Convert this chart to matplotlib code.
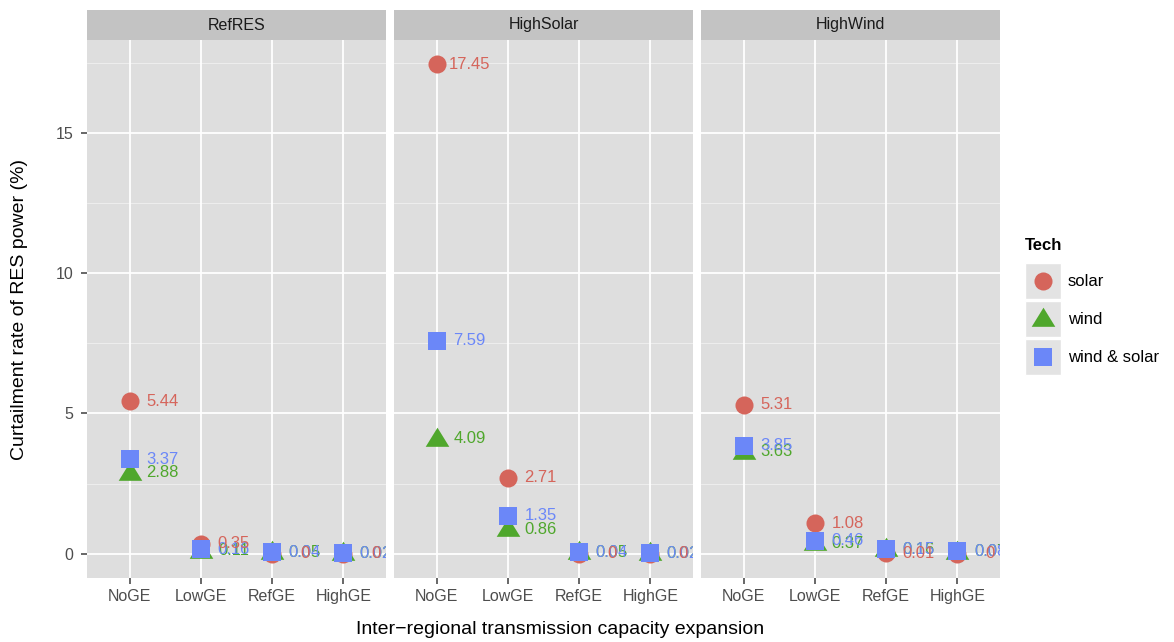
import numpy as np
import matplotlib
matplotlib.use("Agg")
import matplotlib.pyplot as plt
from matplotlib.lines import Line2D
from matplotlib.patches import Rectangle

plt.rcParams['font.family'] = ['Liberation Sans', 'DejaVu Sans']

# scenarios (facets) and transmission expansion levels
scenarios = ["RefRES", "HighSolar", "HighWind"]
expansions = ["NoGE", "LowGE", "RefGE", "HighGE"]
techs = ["solar", "wind", "wind & solar"]

# curtailment rate (%) per scenario, one value per expansion level
solar = {
    "RefRES":    [5.44, 0.35, 0.0, 0.0],
    "HighSolar": [17.45, 2.71, 0.0, 0.0],
    "HighWind":  [5.31, 1.08, 0.01, 0.0],
}
wind = {
    "RefRES":    [2.88, 0.11, 0.05, 0.02],
    "HighSolar": [4.09, 0.86, 0.05, 0.02],
    "HighWind":  [3.63, 0.37, 0.16, 0.07],
}
wind_solar = {
    "RefRES":    [3.37, 0.16, 0.04, 0.02],
    "HighSolar": [7.59, 1.35, 0.04, 0.02],
    "HighWind":  [3.85, 0.46, 0.15, 0.08],
}
series = [solar, wind, wind_solar]

colors = ["#D5655B", "#4FA72C", "#6B87F8"]
tri = [(-1, -0.62), (1, -0.62), (0, 1.0)]
markers = ["o", tri, "s"]
msizes = [13, 17, 13.5]
# solar labels sit on top of the others
text_z = [9, 6, 7]

W, H = 1174, 642
PANEL_BG = "#DEDEDE"
STRIP_BG = "#C3C3C3"
TICK_COL = "#4D4D4D"


def fx(x):
    return x / W


def fy(y):
    return 1 - y / H


def fmt(v):
    return f"{round(v, 2):g}"


fig = plt.figure(figsize=(W / 100, H / 100), dpi=100)

panel_left = [87, 394, 701]
panel_w = 299
top, bottom, strip_top = 40, 578, 10

xs = np.arange(1, len(expansions) + 1)

for i, sc in enumerate(scenarios):
    ax = fig.add_axes([fx(panel_left[i]), fy(bottom), fx(panel_w), (bottom - top) / H])
    ax.set_facecolor(PANEL_BG)
    for s in ax.spines.values():
        s.set_visible(False)
    ax.set_xlim(0.4, 4.6)
    ax.set_ylim(-0.87, 18.32)

    # grid lines
    for y in [2.5, 7.5, 12.5, 17.5]:
        ax.axhline(y, color="#F0F0F0", lw=0.6, zorder=0)
    for y in [0, 5, 10, 15]:
        ax.axhline(y, color="white", lw=1.3, zorder=0)
    for x in xs:
        ax.axvline(x, color="white", lw=1.3, zorder=0)

    for k in range(3):
        vals = series[k][sc]
        ax.plot(xs, vals, linestyle="none", marker=markers[k], ms=msizes[k],
                color=colors[k], markeredgewidth=0, zorder=2 + k)
    for k in range(3):
        vals = series[k][sc]
        for x, v in zip(xs, vals):
            ax.text(x + 0.46, v, fmt(v), color=colors[k], fontsize=12,
                    ha="center", va="center", clip_on=True, zorder=text_z[k])

    ax.set_xticks(xs)
    ax.set_xticklabels(expansions, color=TICK_COL, fontsize=11.5)
    ax.set_yticks([0, 5, 10, 15])
    if i == 0:
        ax.set_yticklabels(["0", "5", "10", "15"], color=TICK_COL, fontsize=11.5)
        ax.tick_params(axis="y", length=4, width=1.2, color=TICK_COL, pad=6)
    else:
        ax.tick_params(axis="y", length=0, labelleft=False)
    ax.tick_params(axis="x", length=4, width=1.2, color=TICK_COL, pad=4)

    # facet strip
    sax = fig.add_axes([fx(panel_left[i]), fy(top), fx(panel_w), (top - strip_top) / H])
    sax.set_facecolor(STRIP_BG)
    sax.set_xticks([])
    sax.set_yticks([])
    for s in sax.spines.values():
        s.set_visible(False)
    sax.text(0.5, 0.5, sc, ha="center", va="center", fontsize=11.5,
             color="#1A1A1A", transform=sax.transAxes)

fig.text(fx(560), fy(630), "Inter\u2212regional transmission capacity expansion",
         ha="center", va="center", fontsize=14)
fig.text(fx(20), fy(309), "Curtailment rate of RES power (%)",
         ha="center", va="center", rotation=90, fontsize=14)

# legend
fig.text(fx(1025), fy(246), "Tech", ha="left", va="center", fontsize=12, fontweight="bold")
rows = [281, 319, 357]
for k, t in enumerate(techs):
    y0 = rows[k]
    fig.add_artist(Rectangle((fx(1025), fy(y0 + 18)), fx(36), 36 / H,
                             transform=fig.transFigure, facecolor="#E3E3E3",
                             edgecolor="white", lw=1))
    fig.add_artist(Line2D([fx(1043)], [fy(y0)], transform=fig.transFigure,
                          linestyle="none", marker=markers[k], ms=msizes[k],
                          color=colors[k], markeredgewidth=0))
    fig.text(fx(1068), fy(y0), t, ha="left", va="center", fontsize=12)

fig.savefig("out.png", dpi=100)
